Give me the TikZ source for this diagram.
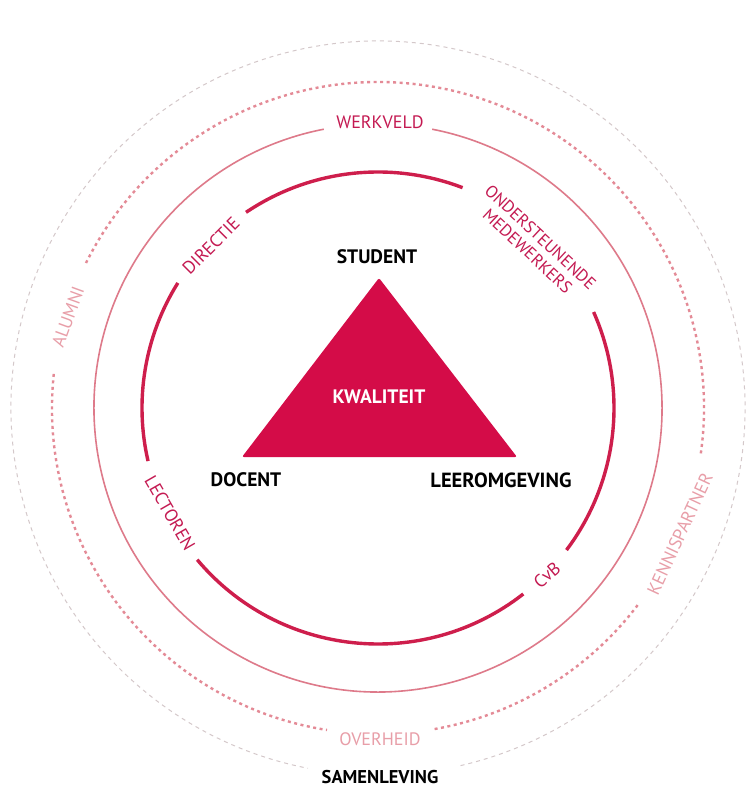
\documentclass[tikz,border=0pt]{standalone}
\usepackage{fontspec}
\setmainfont{PT Sans}
\definecolor{crimson}{RGB}{212,12,72}
\definecolor{ringred}{RGB}{206,30,76}
\definecolor{labelred}{RGB}{196,26,82}
\definecolor{midpink}{RGB}{222,122,138}
\definecolor{dotpink}{RGB}{228,138,150}
\definecolor{softpink}{RGB}{232,158,168}
\definecolor{ringgray}{RGB}{212,200,202}
\begin{document}
\begin{tikzpicture}[x=1pt,y=1pt,
  innerring/.style={draw=ringred,line width=3.4pt},
  midring/.style={draw=midpink,line width=1.6pt},
  dotring/.style={draw=dotpink,line width=2.4pt,dash pattern=on 3pt off 3.5pt},
  outerring/.style={draw=ringgray,line width=1pt,dash pattern=on 4pt off 4pt},
  corner/.style={font=\fontsize{19.5}{22}\selectfont\bfseries,text=black,inner sep=0pt},
  innerlabel/.style={font=\fontsize{18}{20}\selectfont,text=labelred,inner sep=0pt},
  outerlabel/.style={font=\fontsize{18}{20}\selectfont,text=softpink,inner sep=0pt}]
\useasboundingbox (-378,-379) rectangle (369,408);
\fill[white] (-378,-379) rectangle (369,408);

% outer gray ring
\draw[outerring] (-77:367) arc[start angle=-77,end angle=259,radius=367];
% dotted pink ring
\draw[dotring] (174:326) arc[start angle=174,end angle=261,radius=326];
\draw[dotring] (280:326) arc[start angle=280,end angle=323,radius=326];
\draw[dotring] (352:326) arc[start angle=352,end angle=514,radius=326];
% middle ring
\draw[midring] (101:284) arc[start angle=101,end angle=439,radius=284];
% inner ring
\draw[innerring] (69:236) arc[start angle=69,end angle=124,radius=236];
\draw[innerring] (148:236) arc[start angle=148,end angle=193,radius=236];
\draw[innerring] (220:236) arc[start angle=220,end angle=308,radius=236];
\draw[innerring] (323:236) arc[start angle=323,end angle=384,radius=236];

% triangle
\coordinate (apex) at (1,130);
\coordinate (left) at (-136,-49);
\coordinate (right) at (139,-49);
\fill[crimson,rounded corners=2pt] (apex) -- (left) -- (right) -- cycle;

\node[corner] (student) at (-1,151) {STUDENT};
\node[corner,text=white] (kwaliteit) at (1,11) {KWALITEIT};
\node[corner] (docent) at (-132,-72) {DOCENT};
\node[corner,font=\fontsize{20.5}{22}\selectfont\bfseries] (leer) at (123,-72) {LEEROMGEVING};
\node[corner,font=\fontsize{18.5}{20}\selectfont\bfseries] (samen) at (2,-369) {SAMENLEVING};

\node[innerlabel] (werkveld) at (2,286) {WERKVELD};
\node[innerlabel,rotate=45] (directie) at (-167,162) {DIRECTIE};
\node[innerlabel,rotate=-43,align=center,font=\fontsize{17}{19}\selectfont] (onder) at (156,164) {ONDERSTEUNENDE\\MEDEWERKERS};
\node[innerlabel,rotate=-60] (lectoren) at (-208,-105) {LECTOREN};
\node[innerlabel,rotate=40] (cvb) at (169,-167) {CvB};

\node[outerlabel,rotate=70] (alumni) at (-310,91) {ALUMNI};
\node[outerlabel,rotate=65] (kennis) at (302,-126) {KENNISPARTNER};
\node[outerlabel] (overheid) at (2,-331) {OVERHEID};
\end{tikzpicture}
\end{document}
